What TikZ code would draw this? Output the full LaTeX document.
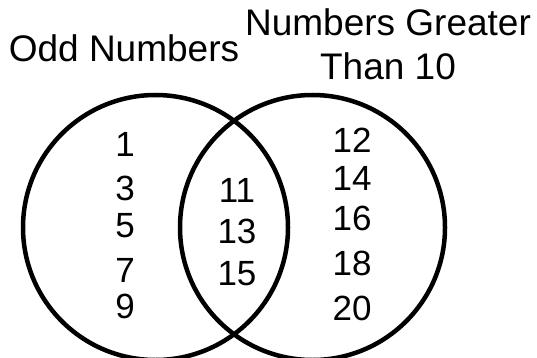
\documentclass[tikz,border=0pt]{standalone}
\usepackage{fontspec}
\setmainfont{Liberation Sans}
\usetikzlibrary{positioning}
\tikzset{
	setring/.style={circle, draw, line width=4.5pt, minimum size=265pt, inner sep=0pt}, % one ring of the venn diagram
	title/.style={anchor=base, font=\fontsize{37}{44}\selectfont, align=center},
	num/.style={anchor=base, font=\fontsize{35}{40}\selectfont, inner sep=0pt}
}
\begin{document}
\begin{tikzpicture}[x=1pt, y=-1pt]
	\useasboundingbox (0,0) rectangle (537,358);
	\node[setring] (O) at (155.5,227.5) {};
	\node[setring] (G) at (312.5,227.5) {};
	\node[title] (OT) at (124,62) {Odd Numbers};
	\node[title] (GT) at (388,80) {Numbers Greater\\Than 10};
	% odd only
	\node[num] (o1) at (125,157) {1};
	\node[num] (o3) at (125,200) {3};
	\node[num] (o5) at (125,237) {5};
	\node[num] (o7) at (125,282) {7};
	\node[num] (o9) at (125,318) {9};
	% both
	\node[num] (b11) at (237,202) {11};
	\node[num] (b13) at (237,243) {13};
	\node[num] (b15) at (237,285) {15};
	% greater only
	\node[num] (g12) at (352,153) {12};
	\node[num] (g14) at (352,190) {14};
	\node[num] (g16) at (352,230) {16};
	\node[num] (g18) at (352,275) {18};
	\node[num] (g20) at (352,320) {20};
\end{tikzpicture}
\end{document}
